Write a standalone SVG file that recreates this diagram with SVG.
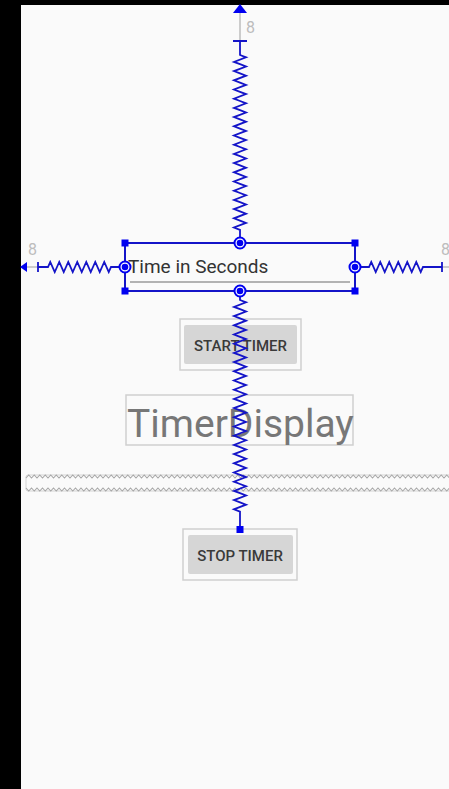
<svg xmlns="http://www.w3.org/2000/svg" width="449" height="789" viewBox="0 0 449 789">
<style>
.spring{fill:none;stroke:#1414c8;stroke-width:1.8;stroke-linejoin:miter}
.margin{fill:none;stroke:#bdbdbd;stroke-width:1.5}
.num{font-family:Roboto,"Liberation Sans",sans-serif;font-size:16px;fill:#bdbdbd}
.sel{fill:none;stroke:#1414c8;stroke-width:2}
.sq{fill:#0000f0}
.ring{fill:#fff;stroke:#0000f0;stroke-width:2}
.dot{fill:#0000f0}
.btnout{fill:none;stroke:#cfcfcf;stroke-width:1.5}
.btnin{fill:#d6d6d6}
.btntxt{font-family:Roboto,"Liberation Sans",sans-serif;font-size:15px;font-weight:500;fill:#3a3a3a;text-anchor:middle}
.zz{fill:none;stroke:#a8a8a8;stroke-width:1.1}
</style>
<rect x="0" y="0" width="449" height="789" fill="#fafafa"/>
<rect x="0" y="0" width="449" height="5" fill="#000"/>
<rect x="0" y="0" width="21" height="789" fill="#000"/>

<g id="seekbar">
<rect x="26" y="475" width="430" height="16" rx="2" fill="none" stroke="#d4d4d4" stroke-width="1"/>
<path class="zz" d="M26,478 l2.75,-3 l2.75,3 l2.75,-3 l2.75,3 l2.75,-3 l2.75,3 l2.75,-3 l2.75,3 l2.75,-3 l2.75,3 l2.75,-3 l2.75,3 l2.75,-3 l2.75,3 l2.75,-3 l2.75,3 l2.75,-3 l2.75,3 l2.75,-3 l2.75,3 l2.75,-3 l2.75,3 l2.75,-3 l2.75,3 l2.75,-3 l2.75,3 l2.75,-3 l2.75,3 l2.75,-3 l2.75,3 l2.75,-3 l2.75,3 l2.75,-3 l2.75,3 l2.75,-3 l2.75,3 l2.75,-3 l2.75,3 l2.75,-3 l2.75,3 l2.75,-3 l2.75,3 l2.75,-3 l2.75,3 l2.75,-3 l2.75,3 l2.75,-3 l2.75,3 l2.75,-3 l2.75,3 l2.75,-3 l2.75,3 l2.75,-3 l2.75,3 l2.75,-3 l2.75,3 l2.75,-3 l2.75,3 l2.75,-3 l2.75,3 l2.75,-3 l2.75,3 l2.75,-3 l2.75,3 l2.75,-3 l2.75,3 l2.75,-3 l2.75,3 l2.75,-3 l2.75,3 l2.75,-3 l2.75,3 l2.75,-3 l2.75,3 l2.75,-3 l2.75,3 l2.75,-3 l2.75,3 l2.75,-3 l2.75,3 l2.75,-3 l2.75,3 l2.75,-3 l2.75,3 l2.75,-3 l2.75,3 l2.75,-3 l2.75,3 l2.75,-3 l2.75,3 l2.75,-3 l2.75,3 l2.75,-3 l2.75,3 l2.75,-3 l2.75,3 l2.75,-3 l2.75,3 l2.75,-3 l2.75,3 l2.75,-3 l2.75,3 l2.75,-3 l2.75,3 l2.75,-3 l2.75,3 l2.75,-3 l2.75,3 l2.75,-3 l2.75,3 l2.75,-3 l2.75,3 l2.75,-3 l2.75,3 l2.75,-3 l2.75,3 l2.75,-3 l2.75,3 l2.75,-3 l2.75,3 l2.75,-3 l2.75,3 l2.75,-3 l2.75,3 l2.75,-3 l2.75,3 l2.75,-3 l2.75,3 l2.75,-3 l2.75,3 l2.75,-3 l2.75,3 l2.75,-3 l2.75,3 l2.75,-3 l2.75,3 l2.75,-3 l2.75,3 l2.75,-3 l2.75,3 l2.75,-3 l2.75,3 l2.75,-3 l2.75,3 l2.75,-3 l2.75,3 l2.75,-3 l2.75,3 l2.75,-3 l2.75,3 l2.75,-3 l2.75,3 l2.75,-3 l2.75,3 l2.75,-3 l2.75,3 l2.75,-3 l2.75,3 l2.75,-3 l2.75,3 l2.75,-3 l2.75,3 l2.75,-3 l2.75,3 l2.75,-3 l2.75,3 l2.75,-3 l2.75,3 l2.75,-3 l2.75,3 l2.75,-3 l2.75,3 l2.75,-3 l2.75,3 l2.75,-3 l2.75,3 l2.75,-3 l2.75,3"/>
<path class="zz" d="M26,488 l2.75,3 l2.75,-3 l2.75,3 l2.75,-3 l2.75,3 l2.75,-3 l2.75,3 l2.75,-3 l2.75,3 l2.75,-3 l2.75,3 l2.75,-3 l2.75,3 l2.75,-3 l2.75,3 l2.75,-3 l2.75,3 l2.75,-3 l2.75,3 l2.75,-3 l2.75,3 l2.75,-3 l2.75,3 l2.75,-3 l2.75,3 l2.75,-3 l2.75,3 l2.75,-3 l2.75,3 l2.75,-3 l2.75,3 l2.75,-3 l2.75,3 l2.75,-3 l2.75,3 l2.75,-3 l2.75,3 l2.75,-3 l2.75,3 l2.75,-3 l2.75,3 l2.75,-3 l2.75,3 l2.75,-3 l2.75,3 l2.75,-3 l2.75,3 l2.75,-3 l2.75,3 l2.75,-3 l2.75,3 l2.75,-3 l2.75,3 l2.75,-3 l2.75,3 l2.75,-3 l2.75,3 l2.75,-3 l2.75,3 l2.75,-3 l2.75,3 l2.75,-3 l2.75,3 l2.75,-3 l2.75,3 l2.75,-3 l2.75,3 l2.75,-3 l2.75,3 l2.75,-3 l2.75,3 l2.75,-3 l2.75,3 l2.75,-3 l2.75,3 l2.75,-3 l2.75,3 l2.75,-3 l2.75,3 l2.75,-3 l2.75,3 l2.75,-3 l2.75,3 l2.75,-3 l2.75,3 l2.75,-3 l2.75,3 l2.75,-3 l2.75,3 l2.75,-3 l2.75,3 l2.75,-3 l2.75,3 l2.75,-3 l2.75,3 l2.75,-3 l2.75,3 l2.75,-3 l2.75,3 l2.75,-3 l2.75,3 l2.75,-3 l2.75,3 l2.75,-3 l2.75,3 l2.75,-3 l2.75,3 l2.75,-3 l2.75,3 l2.75,-3 l2.75,3 l2.75,-3 l2.75,3 l2.75,-3 l2.75,3 l2.75,-3 l2.75,3 l2.75,-3 l2.75,3 l2.75,-3 l2.75,3 l2.75,-3 l2.75,3 l2.75,-3 l2.75,3 l2.75,-3 l2.75,3 l2.75,-3 l2.75,3 l2.75,-3 l2.75,3 l2.75,-3 l2.75,3 l2.75,-3 l2.75,3 l2.75,-3 l2.75,3 l2.75,-3 l2.75,3 l2.75,-3 l2.75,3 l2.75,-3 l2.75,3 l2.75,-3 l2.75,3 l2.75,-3 l2.75,3 l2.75,-3 l2.75,3 l2.75,-3 l2.75,3 l2.75,-3 l2.75,3 l2.75,-3 l2.75,3 l2.75,-3 l2.75,3 l2.75,-3 l2.75,3 l2.75,-3 l2.75,3 l2.75,-3 l2.75,3 l2.75,-3 l2.75,3 l2.75,-3 l2.75,3 l2.75,-3 l2.75,3 l2.75,-3 l2.75,3 l2.75,-3 l2.75,3 l2.75,-3 l2.75,3 l2.75,-3"/>
</g>

<g id="startTimer">
<rect class="btnout" x="180" y="319" width="121" height="51"/>
<rect class="btnin" x="184" y="325" width="113" height="39" rx="2"/>
<text class="btntxt" x="240.5" y="351">START TIMER</text>
</g>

<g id="timerDisplay">
<rect x="126" y="395" width="227" height="50" fill="none" stroke="#cfcfcf" stroke-width="1.5"/>
<text x="127" y="437" font-family="Roboto,'Liberation Sans',sans-serif" font-size="39" fill="#777">TimerDisplay</text>
</g>

<g id="stopTimer">
<rect class="btnout" x="183" y="529" width="114" height="51"/>
<rect class="btnin" x="188" y="535" width="105" height="39" rx="2"/>
<text class="btntxt" x="240" y="561">STOP TIMER</text>
</g>

<g id="connectors">
<path class="margin" d="M240,12 V41"/>
<path class="margin" d="M27,267 H38"/>
<path class="margin" d="M442,267 H449"/>
<polygon points="240,4 233,13 247,13" fill="#0000f0"/>
<polygon points="20,267 27,262 27,272" fill="#0000f0"/>
<path class="spring" d="M233,41 H247 M240,41 V55 l6,2.3 l-12,4.6 l6,2.3 l6,2.3 l-12,4.6 l6,2.3 l6,2.3 l-12,4.6 l6,2.3 l6,2.3 l-12,4.6 l6,2.3 l6,2.3 l-12,4.6 l6,2.3 l6,2.3 l-12,4.6 l6,2.3 l6,2.3 l-12,4.6 l6,2.3 l6,2.3 l-12,4.6 l6,2.3 l6,2.3 l-12,4.6 l6,2.3 l6,2.3 l-12,4.6 l6,2.3 l6,2.3 l-12,4.6 l6,2.3 l6,2.3 l-12,4.6 l6,2.3 l6,2.3 l-12,4.6 l6,2.3 l6,2.3 l-12,4.6 l6,2.3 l6,2.3 l-12,4.6 l6,2.3 l6,2.3 l-12,4.6 l6,2.3 l6,2.3 l-12,4.6 l6,2.3 l6,2.3 l-12,4.6 l6,2.3 l6,2.3 l-12,4.6 l6,2.3 V237"/>
<path class="spring" d="M240,297 V300 l6,2.3 l-12,4.6 l6,2.3 l6,2.3 l-12,4.6 l6,2.3 l6,2.3 l-12,4.6 l6,2.3 l6,2.3 l-12,4.6 l6,2.3 l6,2.3 l-12,4.6 l6,2.3 l6,2.3 l-12,4.6 l6,2.3 l6,2.3 l-12,4.6 l6,2.3 l6,2.3 l-12,4.6 l6,2.3 l6,2.3 l-12,4.6 l6,2.3 l6,2.3 l-12,4.6 l6,2.3 l6,2.3 l-12,4.6 l6,2.3 l6,2.3 l-12,4.6 l6,2.3 l6,2.3 l-12,4.6 l6,2.3 l6,2.3 l-12,4.6 l6,2.3 l6,2.3 l-12,4.6 l6,2.3 l6,2.3 l-12,4.6 l6,2.3 l6,2.3 l-12,4.6 l6,2.3 l6,2.3 l-12,4.6 l6,2.3 l6,2.3 l-12,4.6 l6,2.3 l6,2.3 l-12,4.6 l6,2.3 l6,2.3 l-12,4.6 l6,2.3 l6,2.3 l-12,4.6 l6,2.3 l6,2.3 l-12,4.6 l6,2.3 V527"/>
<path class="spring" d="M38,262 V272 M38,267 H48 l2.25,-5 l4.5,10 l2.25,-5 l2.25,-5 l4.5,10 l2.25,-5 l2.25,-5 l4.5,10 l2.25,-5 l2.25,-5 l4.5,10 l2.25,-5 l2.25,-5 l4.5,10 l2.25,-5 l2.25,-5 l4.5,10 l2.25,-5 l2.25,-5 l4.5,10 l2.25,-5 H119"/>
<path class="spring" d="M361,267 H369 l2.25,-5 l4.5,10 l2.25,-5 l2.25,-5 l4.5,10 l2.25,-5 l2.25,-5 l4.5,10 l2.25,-5 l2.25,-5 l4.5,10 l2.25,-5 l2.25,-5 l4.5,10 l2.25,-5 l2.25,-5 l4.5,10 l2.25,-5 H442 M442,262 V272"/>
<text class="num" x="246" y="33">8</text>
<text class="num" x="28" y="255">8</text>
<text class="num" x="441" y="255">8</text>
</g>

<g id="timeInSeconds">
<line x1="130" y1="282" x2="350" y2="282" stroke="#9a9a9a" stroke-width="1.5"/>
<text x="128" y="273" font-family="Roboto,'Liberation Sans',sans-serif" font-size="19" fill="#333">Time in Seconds</text>
<rect class="sel" x="125" y="243" width="230" height="48"/>
<rect class="sq" x="121.5" y="239.5" width="7" height="7"/>
<rect class="sq" x="351.5" y="239.5" width="7" height="7"/>
<rect class="sq" x="121.5" y="287.5" width="7" height="7"/>
<rect class="sq" x="351.5" y="287.5" width="7" height="7"/>
<circle class="ring" cx="240" cy="243" r="5.5"/><circle class="dot" cx="240" cy="243" r="3.3"/>
<circle class="ring" cx="240" cy="291" r="5.5"/><circle class="dot" cx="240" cy="291" r="3.3"/>
<circle class="ring" cx="125" cy="267" r="5.5"/><circle class="dot" cx="125" cy="267" r="3.3"/>
<circle class="ring" cx="355" cy="267" r="5.5"/><circle class="dot" cx="355" cy="267" r="3.3"/>
</g>
<rect class="sq" x="236.5" y="526" width="7" height="7"/>
</svg>
